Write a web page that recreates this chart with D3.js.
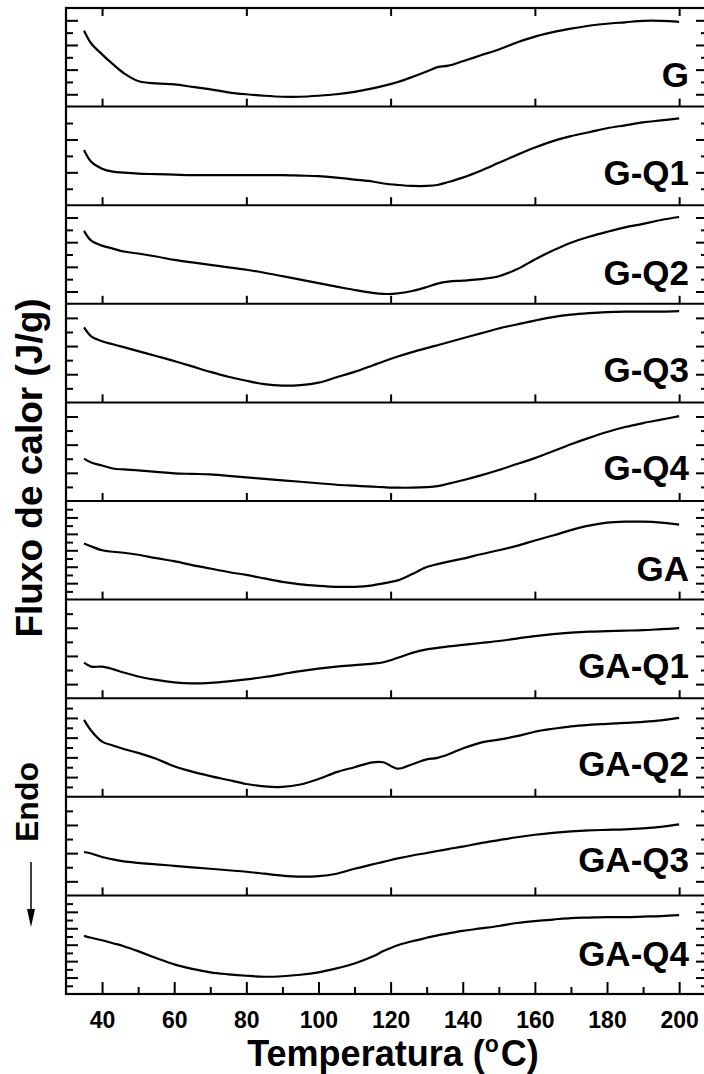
<!DOCTYPE html>
<html><head><meta charset="utf-8">
<script src="https://cdn.jsdelivr.net/npm/d3@7"></script>
<style>body{margin:0;background:#fff}</style></head>
<body>
<svg id="chart" width="704" height="1074"></svg>
<script>
// ---------- data ----------
const seriesNames = ["G","G-Q1","G-Q2","G-Q3","G-Q4","GA","GA-Q1","GA-Q2","GA-Q3","GA-Q4"];
const temperature = [35,37,40,43,46,50,55,60,65,70,75,80,85,90,95,100,105,110,115,118,122,126,130,133,136,140,145,150,155,160,165,170,175,180,185,190,195,200];
// relative heat flow, % of each panel's height
const vG    = [77,64,53,43,34,26,23.5,22.5,20,17.5,14.5,12.5,11,10,10,11,12.5,15,18.5,21,25,30,35.5,40,41.5,46,52,58,65,71,75.5,79,82,84,85.5,87,87,86];
const vGQ1  = [56,44,37,34,33,32,31.5,31,30.5,30.5,30.5,30.5,30.5,30.5,30,29.5,28,26,24,22,20.5,19.5,19.5,20.5,23.5,28,35,43,51,58.5,65,70,74,78,81,84,86,88];
const vGQ2  = [74,64,59,56,53,51,48,44.5,42,39.5,37,34.5,31.5,28,24.5,21,17.5,14,11,10,10.5,13,17,20.5,22.5,23.5,25,28,35,45,54,62,68,73,77.5,81,85,88];
const vGQ3  = [76,67,62,59,56,52,47,42,36.5,31,26,22,18.5,17,17.5,20,25.5,31,37.5,41.5,46.5,51,55,58,61,65,70,75,79,83,86.5,89,90.5,91.5,92,92,92,92.5];
const vGQ4  = [43,39,36,33,32,31,29.5,28,27.5,27,25.5,24,22.5,21,19.5,18,16.5,15.5,14.5,14,13.5,13.5,14,15,17.5,21,26,31.5,37.5,43.5,50.5,57.5,64,70,75,79,82.5,86];
const vGA   = [57,54,50,48.5,47.5,45.5,42,39,35,31.5,28,25,21.5,18,15.5,14,13,13,14.5,16.5,19.5,26,33,36,38.5,41.5,46,50,54.5,60,65,70.5,75,78,79,79,78,76];
const vGAQ1 = [36,32,32,29.5,26,22,18.5,16,15,15.5,17,19,21.5,24.5,27.5,30,32,33.5,35,36.5,41,46,49.5,51,52.5,54,56,58,60.5,63,65,66.5,67.5,68,68.5,69,70,71];
const vGAQ2 = [78,67,56,52,48.5,44.5,38.5,31,25.5,21,17,13,10.5,10,12.5,18,25,30,35,35,28.5,33,38,39.5,43,49,55,58,61.5,66,69,71.5,73,74,75,76,77.5,80];
const vGAQ3 = [44,42.5,39,36.5,34.5,33,31.5,30,28.5,27,25.5,24,22,20,19,19.5,22,27,31.5,34,37.5,40.5,43,45,47,49.5,53,56,59,61.5,63.5,65,66,66.5,67,68,69.5,72];
const vGAQ4 = [59,57,54.5,51.5,48.5,43.5,36.5,30,25.5,22,20,18.5,17.5,18,19.5,22,26,31,38,43.5,49.5,53.5,57,59.5,61.5,64,66.5,69,72,74,75.5,77,77.5,78,78,78.5,79,80];
const seriesValues = [vG,vGQ1,vGQ2,vGQ3,vGQ4,vGA,vGAQ1,vGAQ2,vGAQ3,vGAQ4];
// number of divisions of each panel's (unlabelled) heat-flow axis
const yDivisions = [8,6,8,7,7,12,7,10,7,12];
const yLongOdd   = [1,0,1,0,0,0,1,0,1,0];
const xMajorTicks = [40,60,80,100,120,140,160,180,200];
const xMinorTicks = [50,70,90,110,130,150,170,190];
const panelTicks  = [40,80,120,160,200];
const xTitle = "Temperatura (";
const yTitle = "Fluxo de calor (J/g)";

// ---------- layout ----------
const L = 66, R = 708, T = 8, B = 994;
const labelOffset = [20,20,19,20,21,19,20,21,23,28];
const FONT = "'Liberation Sans', Arial, Helvetica, sans-serif";
const svg = d3.select("#chart");
const x = d3.scaleLinear().domain([30, 208]).range([L, R]);
const band = d3.scaleBand().domain(seriesNames).range([T, B]).paddingInner(0).paddingOuter(0);
const line = d3.line().curve(d3.curveCatmullRom.alpha(0.5));

function styleAxis(g){
  g.select(".domain").remove();
  g.selectAll(".tick line").attr("stroke","#000").attr("stroke-width",2);
}

seriesNames.forEach((name, i) => {
  const y0 = band(name), y1 = y0 + band.bandwidth();
  const n = yDivisions[i];
  const y = d3.scaleLinear().domain([0, 100]).range([y1, y0]);
  const ks = d3.range(1, n);
  const longV = ks.filter(k => (k % 2 === 1) === (yLongOdd[i] === 1)).map(k => 100 * k / n);
  const shortV = ks.filter(k => (k % 2 === 1) !== (yLongOdd[i] === 1)).map(k => 100 * k / n);
  [[longV, 12], [shortV, 7]].forEach(([vals, len]) => {
    svg.append("g").attr("transform", `translate(${L},0)`)
      .call(d3.axisLeft(y).tickValues(vals).tickSize(-len).tickFormat(""))
      .call(styleAxis);
    svg.append("g").attr("transform", `translate(${R},0)`)
      .call(d3.axisRight(y).tickValues(vals).tickSize(-len).tickFormat(""))
      .call(styleAxis);
  });
  if (i < seriesNames.length - 1) {
    svg.append("g").attr("transform", `translate(0,${y1})`)
      .call(d3.axisBottom(x).tickValues(panelTicks).tickSize(-8).tickFormat(""))
      .call(styleAxis);
  }
  const pts = temperature.map((t, j) => [x(t), y(seriesValues[i][j])]);
  svg.append("path").attr("d", line(pts)).attr("fill", "none")
    .attr("stroke", "#000").attr("stroke-width", 2.2).attr("stroke-linejoin","round");
  svg.append("text").attr("x", 689).attr("y", y1 - labelOffset[i]).attr("text-anchor", "end")
    .attr("font-family", FONT).attr("font-weight", "bold").attr("font-size", 35).text(name);
  if (i > 0) svg.append("line").attr("x1", L).attr("x2", R).attr("y1", y0).attr("y2", y0)
    .attr("stroke", "#000").attr("stroke-width", 2);
});

svg.append("g").attr("transform", `translate(0,${T})`)
  .call(d3.axisTop(x).tickValues(panelTicks).tickSize(-8).tickFormat(""))
  .call(styleAxis);
const bx = svg.append("g").attr("transform", `translate(0,${B})`)
  .call(d3.axisBottom(x).tickValues(xMajorTicks).tickSize(-12).tickPadding(18).tickFormat(d3.format("d")))
  .call(styleAxis);
bx.selectAll("text").attr("font-family", FONT).attr("font-weight", "bold").attr("font-size", 23).attr("fill", "#000");
svg.append("g").attr("transform", `translate(0,${B})`)
  .call(d3.axisBottom(x).tickValues(xMinorTicks).tickSize(-7).tickFormat(""))
  .call(styleAxis);

svg.append("rect").attr("x", L).attr("y", T).attr("width", R - L).attr("height", B - T)
  .attr("fill", "none").attr("stroke", "#000").attr("stroke-width", 2.2);

const xt = svg.append("text").attr("x", 393).attr("y", 1066).attr("text-anchor", "middle")
  .attr("font-family", FONT).attr("font-weight", "bold").attr("font-size", 36);
xt.append("tspan").text(xTitle);
xt.append("tspan").attr("font-size", 23).attr("dy", -14).text("o");
xt.append("tspan").attr("dy", 14).attr("dx", 2).text("C)");

svg.append("text").attr("transform", "translate(42,468) rotate(-90)").attr("text-anchor", "middle")
  .attr("font-family", FONT).attr("font-weight", "bold").attr("font-size", 37).text(yTitle);
svg.append("text").attr("transform", "translate(38,802) rotate(-90)").attr("text-anchor", "middle")
  .attr("font-family", FONT).attr("font-weight", "bold").attr("font-size", 32).text("Endo");
svg.append("line").attr("x1", 31).attr("x2", 31).attr("y1", 862).attr("y2", 912)
  .attr("stroke", "#000").attr("stroke-width", 1.5);
svg.append("path").attr("d", "M27,909 L35,909 L31,927 Z").attr("fill", "#000");
</script>
</body></html>
